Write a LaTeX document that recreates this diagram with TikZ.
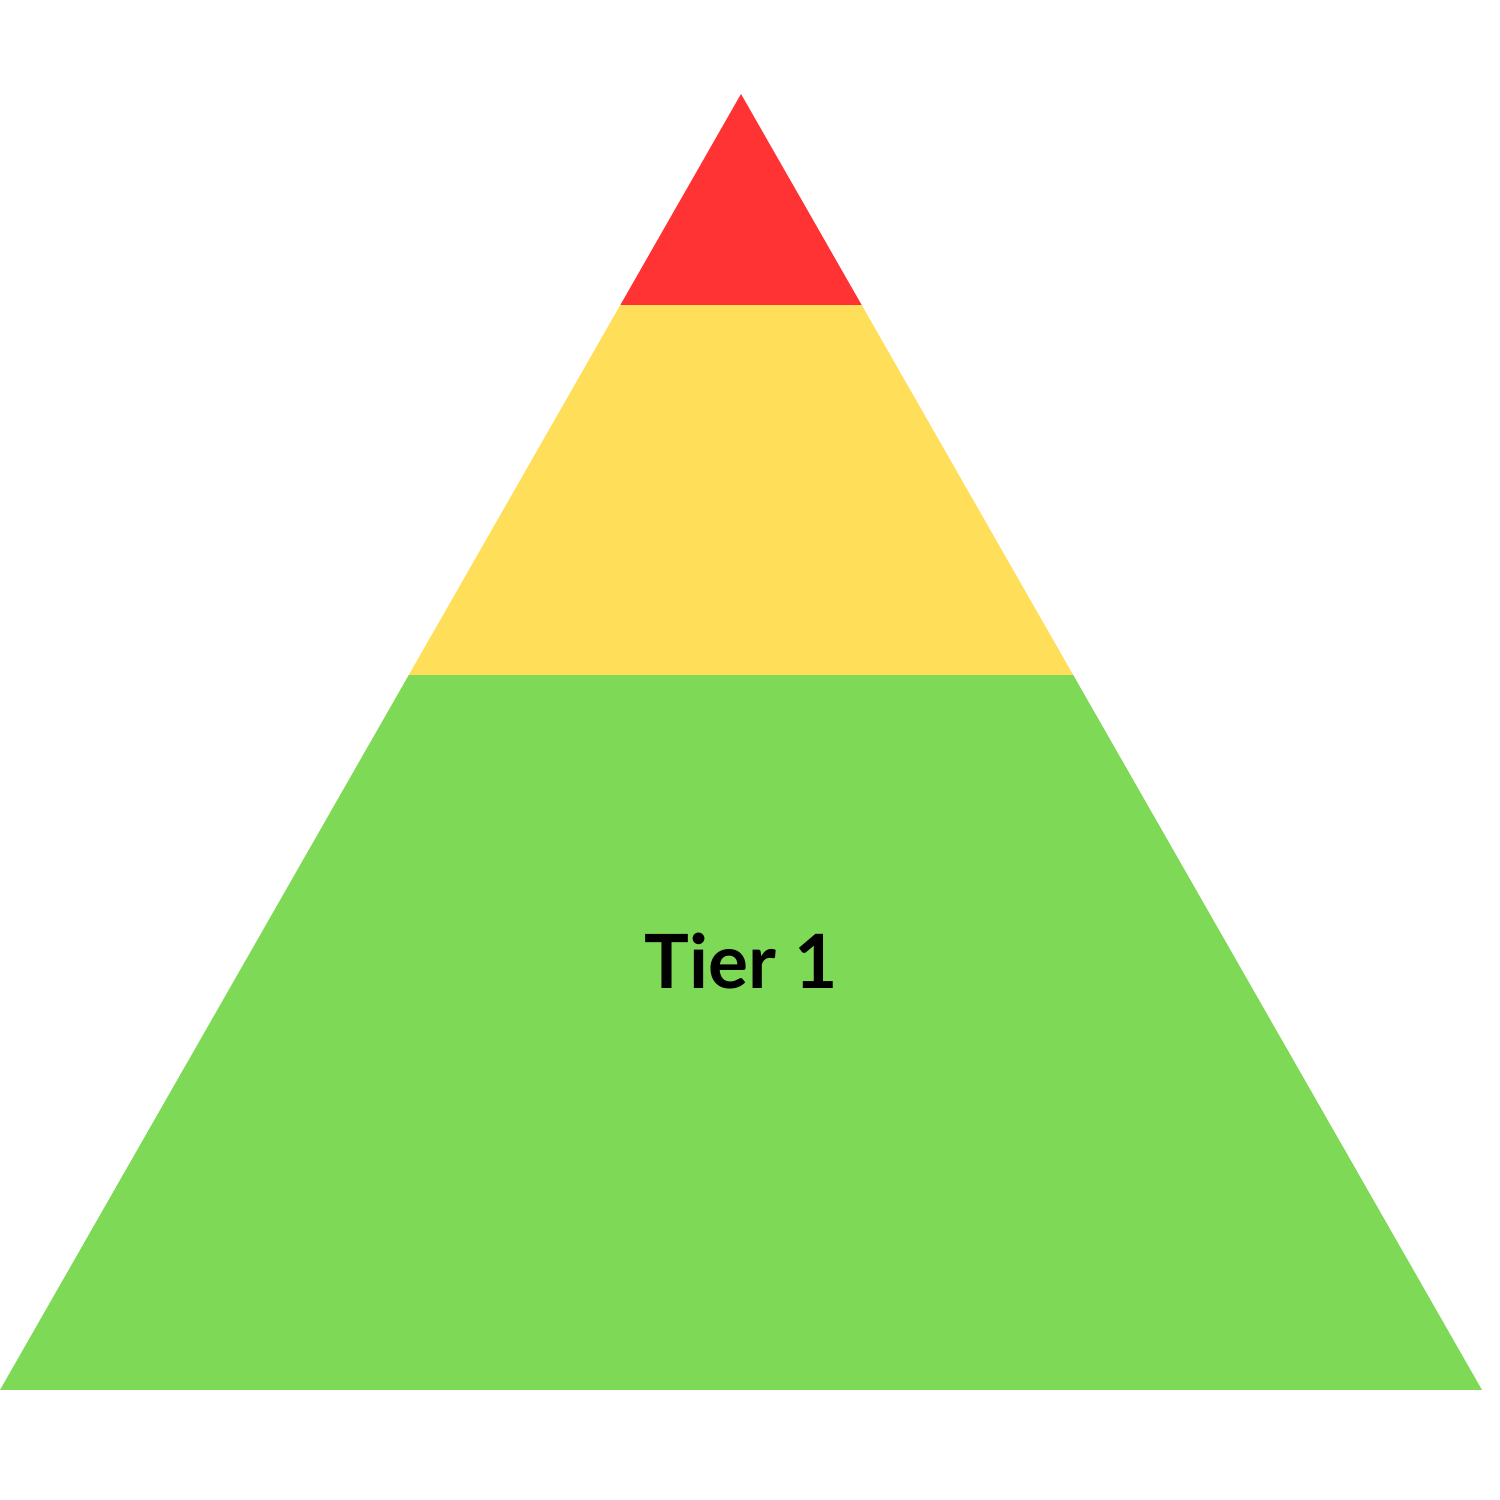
\documentclass[tikz,border=0pt]{standalone}
\usepackage{fontspec}
\newfontfamily\tierfont{Lato}
\definecolor{tierred}{HTML}{FF3333}
\definecolor{tieryellow}{HTML}{FFDE59}
\definecolor{tiergreen}{HTML}{7ED957}
\newcommand{\band}[3]{% horizontal band of the pyramid from y=#1 to y=#2, colour #3
  \fill[#3] (-0.1,#1) rectangle (15,#2);
}

\begin{document}
\begin{tikzpicture}[x=1cm,y=1cm]
  \useasboundingbox (0,0) rectangle (15,15);
  \begin{scope}
    \clip (0,1.10) -- (7.41,14.06) -- (14.82,1.10) -- cycle;
    \band{1.10}{8.25}{tiergreen}
    \band{8.25}{11.95}{tieryellow}
    \band{11.95}{14.2}{tierred}
  \end{scope}
  \node[font=\tierfont\bfseries\fontsize{21.3}{25}\selectfont, anchor=base] (tier1) at (7.41,5.11) {Tier 1};
\end{tikzpicture}
\end{document}
